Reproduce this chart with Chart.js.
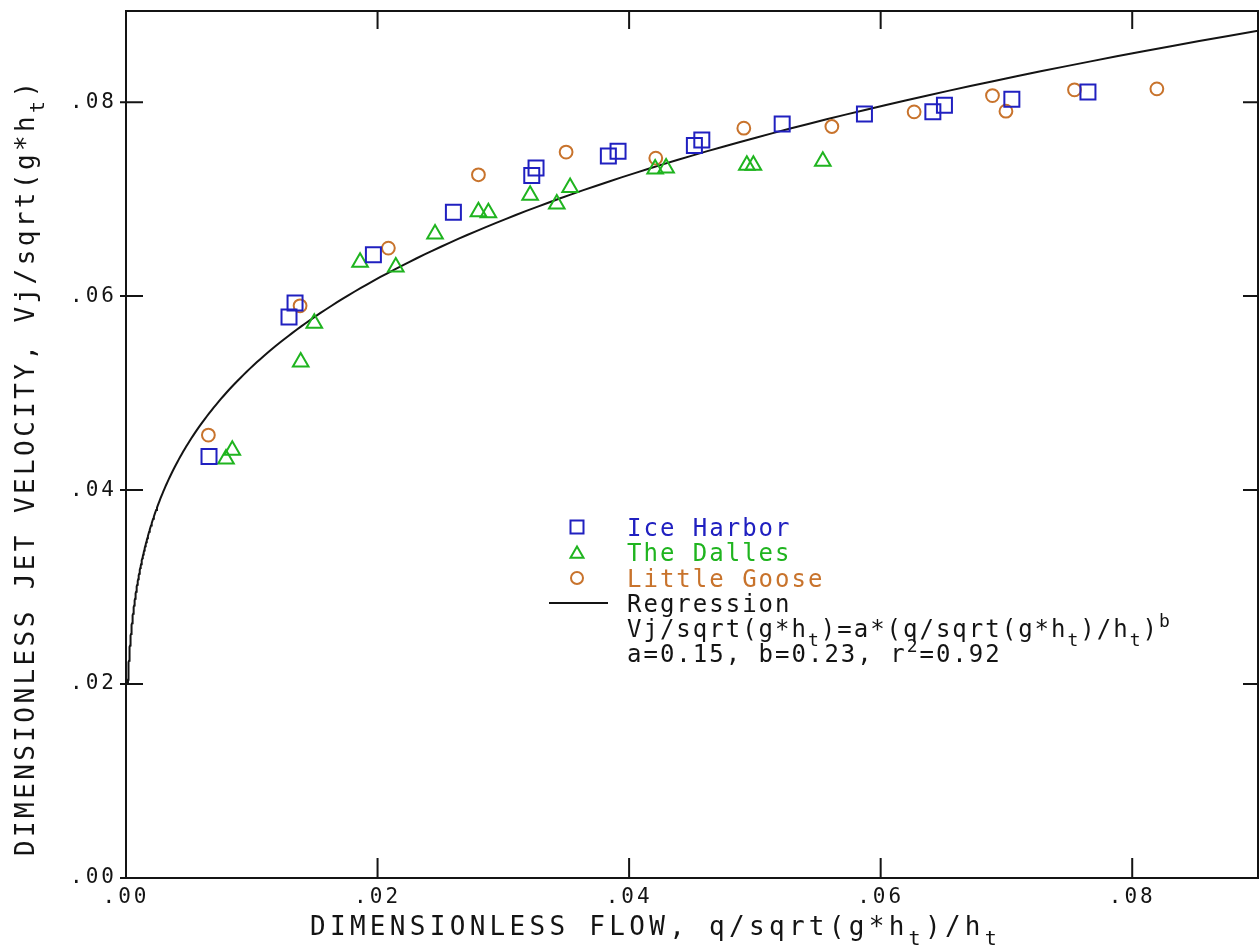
<!DOCTYPE html>
<html>
<head>
<meta charset="utf-8">
<title>Dimensionless jet velocity</title>
<script src="https://cdn.jsdelivr.net/npm/chart.js@4.4.1/dist/chart.umd.min.js"></script>
<style>
  html, body { margin: 0; padding: 0; background: #fff; }
  #wrap { width: 1260px; height: 950px; }
</style>
</head>
<body>
<div id="wrap"><canvas id="jetChart" width="1260" height="950"></canvas></div>
<script>
// measured points, dimensionless flow (x) vs dimensionless jet velocity (y)
const iceHarborX = [0.0066, 0.01296, 0.01344, 0.01967, 0.02603, 0.03226, 0.0326, 0.03835, 0.03912,
  0.04519, 0.04578, 0.05217, 0.05871, 0.06415, 0.06507, 0.07043, 0.07648];
const iceHarborY = [0.04346, 0.05784, 0.05928, 0.06426, 0.06866, 0.07243, 0.0732, 0.07446, 0.07495,
  0.07553, 0.07611, 0.07774, 0.07879, 0.079, 0.07969, 0.08031, 0.08106];

const dallesX = [0.00795, 0.00845, 0.01389, 0.01497, 0.01861, 0.02145, 0.02457, 0.02802, 0.02881,
  0.03213, 0.03425, 0.03531, 0.04207, 0.04294, 0.04936, 0.04988, 0.0554];
const dallesY = [0.0432, 0.0441, 0.0532, 0.0572, 0.0635, 0.0630, 0.0664, 0.0687, 0.0686,
  0.0704, 0.0695, 0.0712, 0.0731, 0.0732, 0.0735, 0.0735, 0.0739];

const gooseX = [0.00655, 0.01384, 0.02086, 0.02802, 0.03499, 0.04212, 0.04912, 0.05612, 0.06266,
  0.06889, 0.06996, 0.07541, 0.08196];
const gooseY = [0.04567, 0.059, 0.06495, 0.07251, 0.07485, 0.07423, 0.07732, 0.07749, 0.079,
  0.08068, 0.07907, 0.08127, 0.08137];

// power-law fit  y = a * x^b
const regA = 0.152;
const regB = 0.23;
const regR2 = 0.92;

const xTicks = [0, 0.02, 0.04, 0.06, 0.08];
const yTicks = [0, 0.02, 0.04, 0.06, 0.08];
const xMax = 0.09;
const yMax = 0.0894;

const BLUE = '#2020c0';
const GREEN = '#1fb41f';
const ORANGE = '#c8732c';
const INK = '#141414';
const FONT = '"DejaVu Sans Mono", monospace';

const zip = (xs, ys) => xs.map((x, i) => ({ x: x, y: ys[i] }));

// sample the fitted curve on a log grid so the steep start stays smooth
const curve = [];
for (let i = 0; i <= 240; i++) {
  const x = Math.exp(Math.log(0.00015) + (Math.log(xMax) - Math.log(0.00015)) * i / 240);
  curve.push({ x: x, y: regA * Math.pow(x, regB) });
}

const fmt = v => v.toFixed(2).replace(/^0/, '');

// text with _{sub} and ^{sup} pieces
function richParts(str) {
  return str.split(/(_\{[^}]*\}|\^\{[^}]*\})/).filter(s => s).map(s => {
    if (s.startsWith('_{')) return { t: s.slice(2, -1), sub: true };
    if (s.startsWith('^{')) return { t: s.slice(2, -1), sup: true };
    return { t: s };
  });
}

function drawRich(ctx, str, x, y, size, spacing, color) {
  let cx = x;
  ctx.fillStyle = color;
  ctx.textAlign = 'left';
  ctx.textBaseline = 'alphabetic';
  richParts(str).forEach(p => {
    const s = (p.sub || p.sup) ? Math.round(size * 0.75) : size;
    const dy = p.sub ? size * 0.38 : p.sup ? -size * 0.42 : 0;
    ctx.font = s + 'px ' + FONT;
    ctx.letterSpacing = '0px';
    const w = ctx.measureText(p.t).width + p.t.length * spacing;
    ctx.letterSpacing = spacing + 'px';
    ctx.fillText(p.t, cx, y + dy);
    cx += w;
  });
  ctx.letterSpacing = '0px';
}

function marker(ctx, style, x, y, r, color) {
  ctx.save();
  ctx.strokeStyle = color;
  ctx.lineWidth = 2;
  ctx.beginPath();
  if (style === 'rect') {
    ctx.rect(x - r, y - r, 2 * r, 2 * r);
  } else if (style === 'triangle') {
    ctx.moveTo(x, y - r);
    ctx.lineTo(x + r * 0.866, y + r * 0.5);
    ctx.lineTo(x - r * 0.866, y + r * 0.5);
    ctx.closePath();
  } else {
    ctx.arc(x, y, r, 0, Math.PI * 2);
  }
  ctx.stroke();
  ctx.restore();
}

// keep the plot box where the layout padding puts it
const noAutoPadding = scale => {
  scale.paddingLeft = scale.paddingRight = scale.paddingTop = scale.paddingBottom = 0;
};

// spaced-out tick lettering, reset before the datasets are drawn
const tickSpacing = {
  id: 'tickSpacing',
  beforeDraw(chart) { chart.ctx.letterSpacing = '3px'; },
  beforeDatasetsDraw(chart) { chart.ctx.letterSpacing = '0px'; }
};

// plot box with inward tick marks on all four sides
const frame = {
  id: 'frame',
  beforeDatasetsDraw(chart) {
    const { ctx, chartArea: a, scales } = chart;
    ctx.save();
    ctx.strokeStyle = INK;
    ctx.lineWidth = 2;
    ctx.strokeRect(a.left, a.top, a.right - a.left, a.bottom - a.top);
    ctx.beginPath();
    xTicks.forEach(v => {
      const px = scales.x.getPixelForValue(v);
      ctx.moveTo(px, a.bottom); ctx.lineTo(px, a.bottom - 20);
      ctx.moveTo(px, a.top); ctx.lineTo(px, a.top + 18);
    });
    yTicks.forEach(v => {
      const py = scales.y.getPixelForValue(v);
      ctx.moveTo(a.left - 6, py); ctx.lineTo(a.left + 17, py);
      ctx.moveTo(a.right, py); ctx.lineTo(a.right - 15, py);
    });
    ctx.stroke();
    ctx.restore();
  }
};

// axis titles and the key
const annotations = {
  id: 'annotations',
  afterDraw(chart) {
    const ctx = chart.ctx;
    ctx.save();
    drawRich(ctx, 'DIMENSIONLESS FLOW, q/sqrt(g*h_{t})/h_{t}', 310, 935, 26, 4.3, INK);

    ctx.save();
    ctx.translate(34, 856);
    ctx.rotate(-Math.PI / 2);
    drawRich(ctx, 'DIMENSIONLESS JET VELOCITY, Vj/sqrt(g*h_{t})', 0, 0, 26, 3.4, INK);
    ctx.restore();

    const lx = 577, tx = 627;
    marker(ctx, 'rect', lx, 527, 6.5, BLUE);
    drawRich(ctx, 'Ice Harbor', tx, 536, 24, 2, BLUE);
    marker(ctx, 'triangle', lx, 554, 7.5, GREEN);
    drawRich(ctx, 'The Dalles', tx, 561, 24, 2, GREEN);
    marker(ctx, 'circle', lx, 578, 6, ORANGE);
    drawRich(ctx, 'Little Goose', tx, 587, 24, 2, ORANGE);

    ctx.strokeStyle = INK;
    ctx.lineWidth = 2;
    ctx.beginPath();
    ctx.moveTo(549, 603);
    ctx.lineTo(608, 603);
    ctx.stroke();
    drawRich(ctx, 'Regression', tx, 612, 24, 2, INK);
    drawRich(ctx, 'Vj/sqrt(g*h_{t})=a*(q/sqrt(g*h_{t})/h_{t})^{b}', tx, 637, 24, 2, INK);
    drawRich(ctx, 'a=' + regA.toFixed(2) + ', b=' + regB.toFixed(2) + ', r^{2}=' + regR2.toFixed(2),
      tx, 662, 24, 2, INK);
    ctx.restore();
  }
};

const pointOpts = (style, r, color) => ({
  pointStyle: style,
  pointRadius: r,
  pointHoverRadius: r,
  pointBorderWidth: 2,
  pointBorderColor: color,
  pointBackgroundColor: 'rgba(0,0,0,0)',
  borderColor: color,
  showLine: false
});

new Chart(document.getElementById('jetChart'), {
  type: 'scatter',
  data: {
    datasets: [
      Object.assign({ label: 'Ice Harbor', data: zip(iceHarborX, iceHarborY) }, pointOpts('rect', 10.6, BLUE)),
      Object.assign({ label: 'The Dalles', data: zip(dallesX, dallesY) }, pointOpts('triangle', 9, GREEN)),
      Object.assign({ label: 'Little Goose', data: zip(gooseX, gooseY) }, pointOpts('circle', 6.4, ORANGE)),
      {
        label: 'Regression',
        data: curve,
        showLine: true,
        borderColor: INK,
        borderWidth: 2,
        pointRadius: 0,
        tension: 0
      }
    ]
  },
  options: {
    responsive: false,
    animation: false,
    events: [],
    layout: { autoPadding: false, padding: { left: 0, top: 11, right: 2, bottom: 0 } },
    plugins: { legend: { display: false }, tooltip: { enabled: false } },
    scales: {
      x: {
        type: 'linear',
        min: 0,
        max: xMax,
        afterFit(scale) { scale.height = 72; noAutoPadding(scale); },
        grid: { display: false, drawTicks: false },
        border: { display: false },
        ticks: {
          stepSize: 0.02,
          includeBounds: false,
          padding: 7,
          color: INK,
          font: { family: FONT, size: 21 },
          maxRotation: 0,
          callback: v => fmt(v)
        }
      },
      y: {
        type: 'linear',
        min: 0,
        max: yMax,
        afterFit(scale) { scale.width = 126; noAutoPadding(scale); },
        grid: { display: false, drawTicks: false },
        border: { display: false },
        ticks: {
          stepSize: 0.02,
          includeBounds: false,
          padding: 9,
          color: INK,
          font: { family: FONT, size: 21 },
          callback: v => fmt(v)
        }
      }
    }
  },
  plugins: [tickSpacing, frame, annotations]
});
</script>
</body>
</html>
